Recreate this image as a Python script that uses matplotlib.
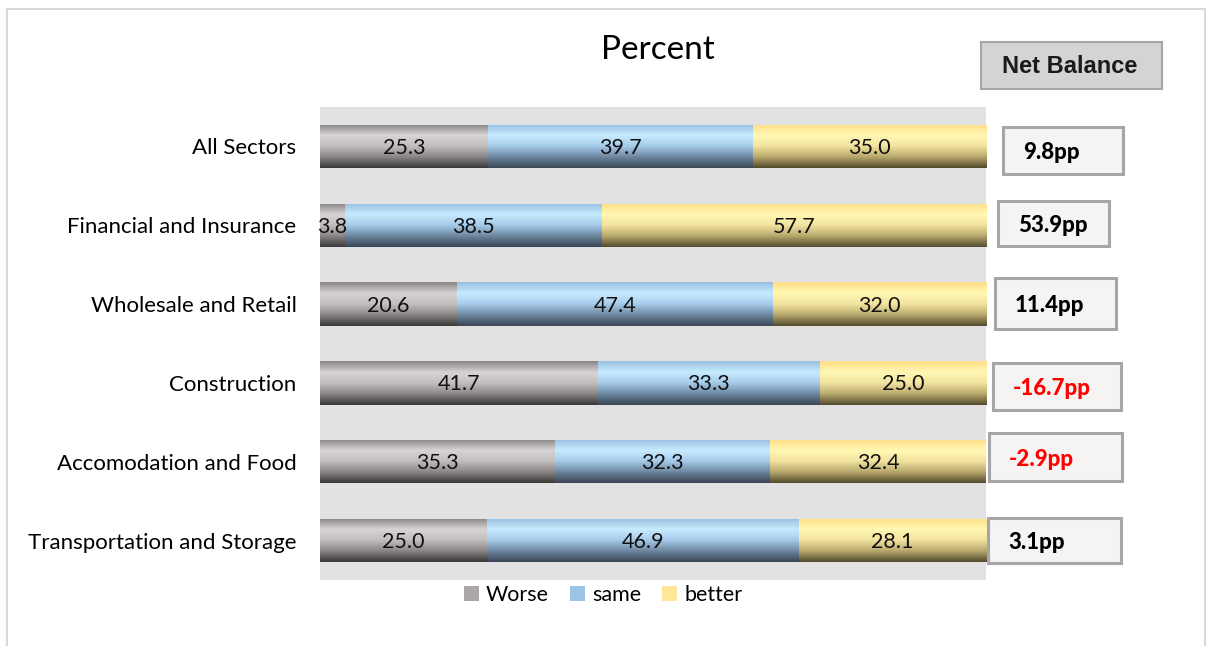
import numpy as np
import matplotlib
matplotlib.use("Agg")
import matplotlib.pyplot as plt
from matplotlib.colors import LinearSegmentedColormap, to_rgb
from matplotlib.patches import Rectangle, Patch

# data
sectors = ["All Sectors", "Financial and Insurance", "Wholesale and Retail",
           "Construction", "Accomodation and Food", "Transportation and Storage"]
worse = [25.3, 3.8, 20.6, 41.7, 35.3, 25.0]
same = [39.7, 38.5, 47.4, 33.3, 32.3, 46.9]
better = [35.0, 57.7, 32.0, 25.0, 32.4, 28.1]
net_balance = [9.8, 53.9, 11.4, -16.7, -2.9, 3.1]
series_names = ["Worse", "same", "better"]

# gradient stops (top -> bottom) for each series, plus legend swatch colour
gradients = {
    "Worse": ["#8a8686", "#d8d4d4", "#c2bebe", "#8a8686", "#3a3838"],
    "same": ["#9ac0e0", "#c6ecff", "#a6cbea", "#6d87a0", "#3a4756"],
    "better": ["#ffdf88", "#fff8b4", "#f3e3a0", "#b8a86c", "#544c2e"],
}
swatch = {"Worse": "#aba7a7", "same": "#9dc3e6", "better": "#ffe699"}

plt.rcParams["font.family"] = ["Lato", "DejaVu Sans"]

W, H = 1206, 646
fig = plt.figure(figsize=(W / 100, H / 100), dpi=100)


def fx(px):
    return px / W


def fy(py):
    return 1 - py / H


# outer chart frame
fig.patches.append(Rectangle((fx(7), fy(660)), fx(1205) - fx(7), fy(9) - fy(660),
                             transform=fig.transFigure, fill=False,
                             edgecolor="#d9d9d9", lw=1.5))

ax = fig.add_axes([fx(320), fy(580), fx(986) - fx(320), fy(107) - fy(580)])
ax.set_facecolor("#e2e2e2")

n = len(sectors)
ypos = np.arange(n)[::-1]
bar_h = 0.55
grad_img = np.linspace(0, 1, 64).reshape(-1, 1)

left = np.zeros(n)
for name, vals in zip(series_names, [worse, same, better]):
    cmap = LinearSegmentedColormap.from_list(name, [to_rgb(c) for c in gradients[name]])
    bars = ax.barh(ypos, vals, left=left, height=bar_h, color="none", edgecolor="none")
    for bar, v in zip(bars, vals):
        x0, y0 = bar.get_x(), bar.get_y()
        im = ax.imshow(grad_img, cmap=cmap, aspect="auto", origin="upper",
                       extent=[x0, x0 + bar.get_width(), y0, y0 + bar.get_height()],
                       zorder=2)
        im.set_clip_path(bar)
        ax.text(x0 + bar.get_width() / 2, y0 + bar.get_height() / 2 - 0.02, f"{v:.1f}",
                ha="center", va="center", fontsize=15.5, color="#111111", zorder=3)
    left += np.array(vals)

ax.set_xlim(0, 100)
ax.set_ylim(-0.5, n - 0.5)
ax.set_yticks(ypos)
ax.set_yticklabels(sectors, fontsize=16)
ax.set_xticks([])
ax.tick_params(axis="y", length=0, pad=17)
for s in ax.spines.values():
    s.set_visible(False)

fig.text(fx(658), fy(50), "Percent", ha="center", va="center", fontsize=24)

handles = [Patch(facecolor=swatch[s], edgecolor="none") for s in series_names]
fig.legend(handles, series_names, loc="center", bbox_to_anchor=(fx(603), fy(595)),
           ncol=3, frameon=False, fontsize=15.5, handlelength=0.7, handleheight=0.7,
           handletextpad=0.35, columnspacing=0.95)

# Net Balance header
hdr = (981, 42, 1162, 89)
fig.patches.append(Rectangle((fx(hdr[0]), fy(hdr[3])), fx(hdr[2]) - fx(hdr[0]),
                             fy(hdr[1]) - fy(hdr[3]), transform=fig.transFigure,
                             facecolor="#d4d4d4", edgecolor="#a6a6a6", lw=1.5))
fig.text(fx((hdr[0] + hdr[2]) / 2 - 2), fy((hdr[1] + hdr[3]) / 2 + 1), "Net Balance",
         ha="center", va="center", fontsize=17, fontweight="bold",
         family="Liberation Sans", color="#1a1a1a")

# net balance boxes (pixel layout)
boxes = [(1003, 127, 1123, 174), (998, 201, 1109, 246), (995, 278, 1116, 329),
         (993, 363, 1121, 410), (989, 433, 1122, 481), (988, 518, 1121, 563)]
for (x0, y0, x1, y1), v in zip(boxes, net_balance):
    fig.patches.append(Rectangle((fx(x0), fy(y1)), fx(x1) - fx(x0), fy(y0) - fy(y1),
                                 transform=fig.transFigure, facecolor="#f6f4f3",
                                 edgecolor="#a6a6a6", lw=2.2))
    fig.text(fx(x0 + 20), fy((y0 + y1) / 2 + 2), f"{v:.1f}pp", ha="left", va="center",
             fontsize=16, fontweight="black", color="red" if v < 0 else "black")

fig.savefig("out.png", dpi=100)
